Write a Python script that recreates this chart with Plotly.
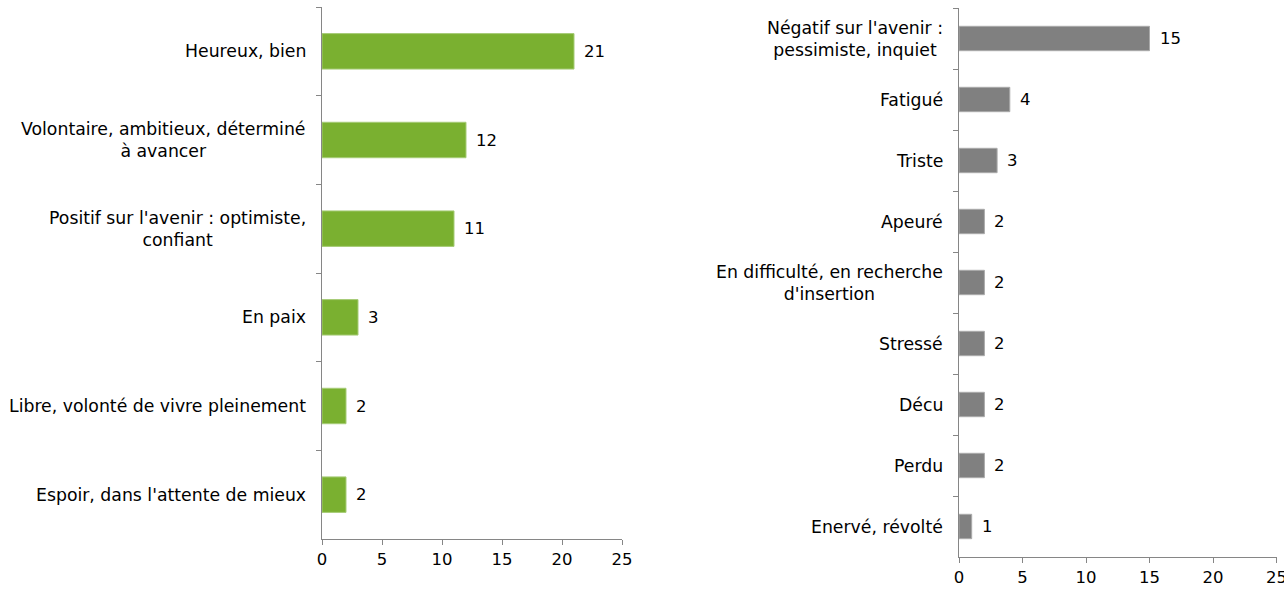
import plotly.graph_objects as go

# left panel: positive feelings
pos_labels = [
    "Heureux, bien",
    "Volontaire, ambitieux, déterminé<br>à avancer",
    "Positif sur l'avenir : optimiste,<br>confiant",
    "En paix",
    "Libre, volonté de vivre pleinement",
    "Espoir, dans l'attente de mieux",
]
pos_values = [21, 12, 11, 3, 2, 2]

# right panel: negative feelings
neg_labels = [
    "Négatif sur l'avenir :<br>pessimiste, inquiet",
    "Fatigué",
    "Triste",
    "Apeuré",
    "En difficulté, en recherche<br>d'insertion",
    "Stressé",
    "Décu",
    "Perdu",
    "Enervé, révolté",
]
neg_values = [15, 4, 3, 2, 2, 2, 2, 2, 1]

x_ticks = [0, 5, 10, 15, 20, 25]

FONT = "DejaVu Sans, Verdana, sans-serif"
AXIS_COLOR = "#868686"
W, H = 1284, 589
LABEL_SIZE = 17.3
NUM_SIZE = 16.5

fig = go.Figure()
fig.add_trace(
    go.Bar(
        x=pos_values,
        y=pos_labels,
        orientation="h",
        width=0.4,
        marker=dict(color="#7AB030", line=dict(color="#A6CC77", width=1)),
        xaxis="x",
        yaxis="y",
        hoverinfo="x+y",
    )
)
fig.add_trace(
    go.Bar(
        x=neg_values,
        y=neg_labels,
        orientation="h",
        width=0.4,
        marker=dict(color="#808080", line=dict(color="#AAAAAA", width=1)),
        xaxis="x2",
        yaxis="y2",
        hoverinfo="x+y",
    )
)

annotations = []
for xa, ya, labels, values in [
    ("x", "y", pos_labels, pos_values),
    ("x2", "y2", neg_labels, neg_values),
]:
    for lab, val in zip(labels, values):
        # category label, lines centred on each other
        annotations.append(
            dict(
                text=lab,
                x=0,
                y=lab,
                xref=xa + " domain",
                yref=ya,
                xanchor="right",
                yanchor="middle",
                align="center",
                xshift=-14,
                showarrow=False,
                font=dict(size=LABEL_SIZE, color="#000000", family=FONT),
            )
        )
        # value label
        annotations.append(
            dict(
                text=str(val),
                x=val,
                y=lab,
                xref=xa,
                yref=ya,
                xanchor="left",
                yanchor="middle",
                xshift=8,
                showarrow=False,
                font=dict(size=NUM_SIZE, color="#000000", family=FONT),
            )
        )

xaxis_common = dict(
    range=[0, 25],
    tickvals=x_ticks,
    ticks="outside",
    ticklen=5,
    tickcolor=AXIS_COLOR,
    showline=True,
    linecolor=AXIS_COLOR,
    linewidth=1,
    showgrid=False,
    zeroline=False,
    automargin=False,
    ticklabeloverflow="allow",
    tickfont=dict(size=NUM_SIZE, color="#000000", family=FONT),
)
yaxis_common = dict(
    autorange="reversed",
    type="category",
    tickson="boundaries",
    ticks="outside",
    ticklen=5,
    tickcolor=AXIS_COLOR,
    showline=True,
    linecolor=AXIS_COLOR,
    linewidth=1,
    showgrid=False,
    automargin=False,
    showticklabels=False,
)

fig.update_layout(
    width=W,
    height=H,
    margin=dict(l=0, r=0, t=0, b=0, autoexpand=False),
    paper_bgcolor="white",
    plot_bgcolor="white",
    showlegend=False,
    font=dict(family=FONT, size=LABEL_SIZE, color="#000000"),
    xaxis=dict(domain=[322 / W, 622 / W], anchor="y", **xaxis_common),
    yaxis=dict(domain=[(H - 539) / H, (H - 7) / H], anchor="x", **yaxis_common),
    xaxis2=dict(domain=[959 / W, 1276.5 / W], anchor="y2", **xaxis_common),
    yaxis2=dict(domain=[(H - 557) / H, (H - 8) / H], anchor="x2", **yaxis_common),
    annotations=annotations,
)

# page body has a default margin, drop it so the figure sits at the corner
fig.write_html(
    "out.html",
    config={"displayModeBar": False},
    post_script="document.body.style.margin='0';document.body.style.overflow='hidden';",
)
